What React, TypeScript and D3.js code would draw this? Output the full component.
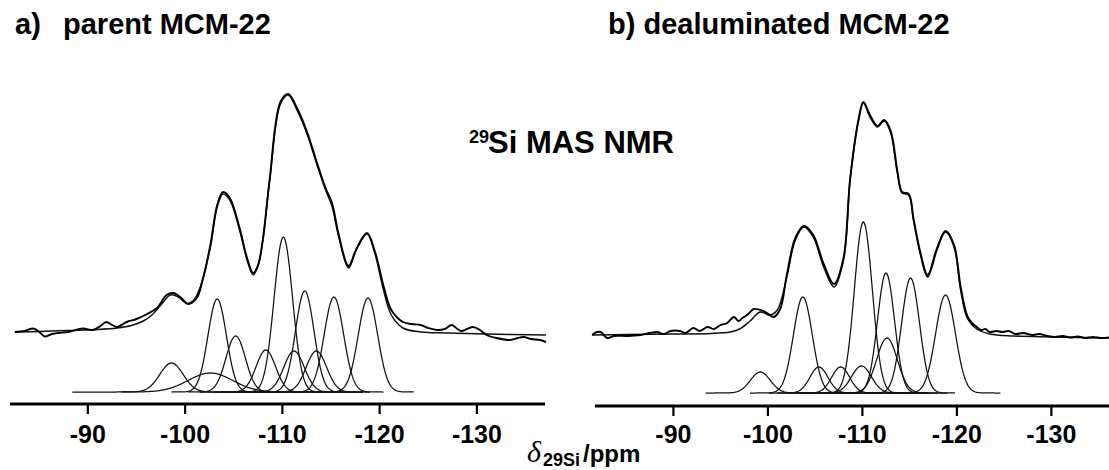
import React from 'react'
import * as d3 from 'd3'

const W = 1109
const H = 470
const TICKS = [-90, -100, -110, -120, -130]

// a) parent MCM-22 : [ppm, intensity]
const fitA: [number, number][] = [
  [-82.5, 60], [-85, 60.5], [-88, 61.5], [-91, 62.5], [-93, 64], [-94.5, 66.5], [-95.7, 71], [-96.6, 77],
  [-97.5, 87], [-98.5, 97], [-99.3, 95], [-100.2, 88.5], [-100.9, 92], [-101.6, 106], [-102.6, 145],
  [-103.3, 185], [-103.9, 198], [-104.6, 192], [-105.6, 162], [-106.4, 131], [-107.0, 117], [-107.5, 126],
  [-108.0, 152], [-108.7, 212], [-109.8, 288], [-110.6, 297], [-111.5, 282], [-112.5, 259], [-113.5, 229],
  [-114.4, 203], [-115.1, 186], [-115.8, 155], [-116.8, 124], [-117.6, 142], [-118.7, 158], [-119.5, 139],
  [-120.4, 102], [-121.2, 77], [-122.4, 64], [-124.2, 60], [-127, 59], [-131, 58], [-137.1, 57],
]
const expA: [number, number][] = [
  [-82.5, 60], [-83.5, 61], [-84.4, 63.5], [-85, 60], [-85.6, 55.5], [-86.3, 58], [-86.9, 59], [-88, 60],
  [-89.5, 63.5], [-90.5, 62], [-91.3, 66], [-91.9, 70], [-92.5, 67], [-93, 65], [-94, 70], [-95, 73],
  [-96, 77.5], [-97.1, 84], [-98.1, 97], [-98.8, 99], [-99.6, 94], [-100.3, 88], [-101.2, 94], [-101.8, 112],
  [-102.6, 147], [-103.3, 187], [-103.9, 200], [-104.6, 194], [-105.6, 164], [-106.4, 133], [-107.0, 119],
  [-107.5, 127], [-108.0, 153], [-108.7, 213], [-109.8, 290], [-110.6, 298], [-111.5, 284], [-112.5, 261],
  [-113.5, 231], [-114.4, 205], [-115.1, 189], [-115.8, 157], [-116.8, 126], [-117.6, 143], [-118.7, 159],
  [-119.5, 141], [-120.4, 106], [-121.2, 82], [-122.4, 70], [-123.3, 68], [-124.2, 67], [-125, 64],
  [-125.9, 62], [-126.7, 63], [-127.4, 67], [-128, 63], [-128.4, 61], [-129, 63], [-129.6, 65], [-130.3, 62],
  [-131, 57], [-132, 54], [-133.4, 52], [-134.2, 54], [-134.8, 55], [-135.6, 53], [-136.5, 52], [-137.1, 50],
]
// deconvoluted components (centre, height, sigma, drawn range)
const peakCentreA = [-98.6, -102.6, -103.3, -105.2, -108.3, -110.1, -111.2, -112.3, -113.5, -115.3, -118.8]
const peakHeightA = [29, 19, 93, 56, 42, 155, 41, 101, 41, 95, 94]
const peakSigmaA = [1.2, 2.3, 0.95, 1.0, 1.0, 0.95, 1.05, 0.95, 1.05, 1.0, 1.0]
const peakFromA = [-88.4, -93.5, -98.6, -100.3, -101.5, -103, -104, -105, -106.2, -108, -111]
const peakToA = [-108, -114, -110, -112, -116, -117, -118.3, -118.3, -119, -120.4, -123.5]

// b) dealuminated MCM-22
const fitB: [number, number][] = [
  [-81.4, 58], [-85, 58.5], [-90, 59], [-94, 59.5], [-96, 61], [-97, 64], [-98, 71], [-99.2, 81],
  [-100.2, 78], [-101, 83], [-102, 116], [-102.9, 153], [-103.8, 166], [-104.8, 156], [-105.9, 126],
  [-107, 106], [-108, 133], [-108.7, 213], [-109.6, 273], [-110.1, 290], [-110.8, 276], [-111.6, 266],
  [-112.3, 272], [-113, 260], [-113.7, 220], [-114.2, 200], [-114.9, 198], [-115.4, 173], [-116.1, 140],
  [-116.9, 116], [-117.9, 143], [-118.8, 161], [-119.7, 146], [-120.4, 103], [-121.1, 75], [-122.1, 64],
  [-123.5, 59], [-126, 57], [-130, 56], [-136.1, 55],
]
const expB: [number, number][] = [
  [-81.4, 58], [-81.9, 61], [-82.3, 61], [-83, 55], [-83.7, 57], [-85.1, 57], [-86.5, 58], [-87.5, 60],
  [-88.3, 61], [-89, 59], [-89.7, 62], [-90.7, 62], [-91.3, 60], [-92.1, 65], [-92.8, 62], [-93.6, 66],
  [-94.3, 64], [-95, 68], [-95.7, 70], [-96.4, 76], [-96.9, 72], [-97.3, 75], [-97.8, 78], [-98.5, 84],
  [-99.2, 83], [-99.9, 80], [-100.6, 76], [-101.3, 84], [-102, 118], [-102.9, 155], [-103.8, 167],
  [-104.8, 158], [-105.9, 129], [-107, 109], [-108, 135], [-108.7, 214], [-109.6, 274], [-110.1, 291],
  [-110.8, 278], [-111.6, 267], [-112.3, 273], [-113, 262], [-113.7, 222], [-114.2, 201], [-114.9, 199],
  [-115.4, 175], [-116.1, 142], [-116.9, 118], [-117.9, 145], [-118.8, 162], [-119.7, 148], [-120.4, 106],
  [-121.1, 77], [-121.6, 70], [-122.1, 66], [-122.6, 63], [-123, 64], [-123.5, 61], [-124.2, 62],
  [-124.8, 61], [-125.5, 62], [-126.2, 59], [-127, 60], [-128, 58], [-128.7, 59], [-129.6, 57],
  [-130.4, 56], [-131.2, 57], [-132, 55.5], [-132.8, 56.5], [-133.6, 55], [-134.4, 56], [-135.2, 55],
  [-136.1, 55.5],
]
const peakCentreB = [-99.2, -103.7, -105.4, -107.7, -109.9, -110.1, -112.5, -112.6, -115.1, -118.8]
const peakHeightB = [21, 96, 26, 26, 27, 171, 120, 55, 115, 98]
const peakSigmaB = [1.05, 1.0, 0.95, 0.95, 1.05, 0.95, 0.9, 1.1, 0.95, 1.05]
const peakFromB = [-93.4, -98.1, -100.1, -101, -103, -103.5, -106, -106, -108, -112]
const peakToB = [-108, -112, -114, -116, -117, -117, -118, -119, -119.8, -124.6]

const font = 'Liberation Sans, Arial, Helvetica, sans-serif'

function gaussPoints(c: number, a: number, s: number, from: number, to: number) {
  const pts: [number, number][] = d3.range(from, to, -0.1).map(p => [p, a * Math.exp(-((p - c) ** 2) / (2 * s * s))])
  pts.push([to, a * Math.exp(-((to - c) ** 2) / (2 * s * s))])
  return pts
}

type PanelProps = {
  fit: [number, number][]
  exp: [number, number][]
  centre: number[]
  height: number[]
  sigma: number[]
  from: number[]
  to: number[]
  xDomain: [number, number]
  xRange: [number, number]
  baseY: number
  axisY: number
}

function Panel(p: PanelProps) {
  const x = d3.scaleLinear().domain(p.xDomain).range(p.xRange)
  const y = d3.scaleLinear().domain([0, 300]).range([p.baseY, p.baseY - 300])
  const line = d3.line<[number, number]>().x(d => x(d[0])).y(d => y(d[1])).curve(d3.curveCatmullRom.alpha(0.5))
  const gline = d3.line<[number, number]>().x(d => x(d[0])).y(d => y(d[1]))

  return (
    <g>
      {p.centre.map((c, i) => (
        <path key={i} d={gline(gaussPoints(c, p.height[i], p.sigma[i], p.from[i], p.to[i])) || ''}
          fill="none" stroke="#111" strokeWidth={1.25} />
      ))}
      <path d={line(p.fit) || ''} fill="none" stroke="#111" strokeWidth={1.5} />
      <path d={line(p.exp) || ''} fill="none" stroke="#000" strokeWidth={1.9} />
      <line x1={p.xRange[0]} x2={p.xRange[1]} y1={p.axisY} y2={p.axisY} stroke="#000" strokeWidth={3} />
      {TICKS.map(t => (
        <g key={t} transform={`translate(${x(t)},0)`}>
          <line y1={p.axisY} y2={p.axisY + 10} stroke="#000" strokeWidth={2.2} />
          <text y={443} textAnchor="middle" fontFamily={font} fontWeight="bold" fontSize={25}>{t}</text>
        </g>
      ))}
    </g>
  )
}

export default function App() {
  return (
    <svg width={W} height={H} style={{ position: 'absolute', left: 0, top: 0, background: '#fff' }}>
      <rect width={W} height={H} fill="#fff" />
      <text y={34} fontFamily={font} fontWeight="bold" fontSize={29}>
        <tspan x={15}>a)</tspan>
        <tspan x={63}>parent MCM-22</tspan>
      </text>
      <text x={608} y={34} fontFamily={font} fontWeight="bold" fontSize={29}>b) dealuminated MCM-22</text>
      <text x={469} y={143} fontFamily={font} fontWeight="bold" fontSize={18}>29</text>
      <text x={488} y={153} fontFamily={font} fontWeight="bold" fontSize={31}>Si MAS NMR</text>

      <Panel fit={fitA} exp={expA} centre={peakCentreA} height={peakHeightA} sigma={peakSigmaA}
        from={peakFromA} to={peakToA} xDomain={[-82, -137]} xRange={[10, 545]} baseY={392} axisY={404} />
      <Panel fit={fitB} exp={expB} centre={peakCentreB} height={peakHeightB} sigma={peakSigmaB}
        from={peakFromB} to={peakToB} xDomain={[-81.7, -136.1]} xRange={[595, 1109]} baseY={393} axisY={406} />

      <text x={527} y={462} fontFamily="Liberation Serif, Times New Roman, serif" fontStyle="italic" fontSize={30}>δ</text>
      <text x={543} y={466} fontFamily={font} fontWeight="bold" fontSize={18}>29Si</text>
      <text x={583} y={462} fontFamily={font} fontWeight="bold" fontSize={24}>/ppm</text>
    </svg>
  )
}
